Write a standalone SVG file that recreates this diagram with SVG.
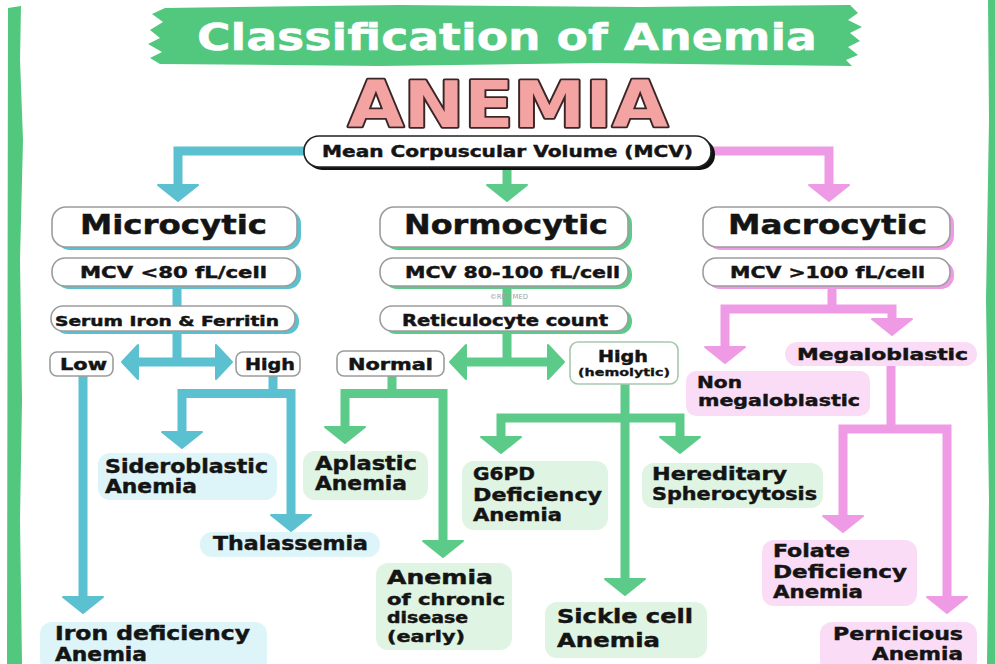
<svg xmlns="http://www.w3.org/2000/svg" xmlns:xlink="http://www.w3.org/1999/xlink" width="995" height="664" viewBox="0 0 995 664">
<style>
.t{font-family:"DejaVu Sans","Liberation Sans",sans-serif;font-weight:bold;fill:#141414;stroke:#141414;stroke-width:0.45}
.box{fill:#fff;stroke:#9c9c9c;stroke-width:1.6}
.tl{fill:#5bc0d0}.gr{fill:#5ccb89}.pk{fill:#ee9ae5}
.ct{fill:none;stroke-width:9;stroke-linejoin:miter}
.lt{fill:#ddf4f9}.lg{fill:#dff4e3}.lp{fill:#fadcf6}
</style>
<defs>
<path id="ah" d="M-20,-16 L20,-16 L0,0 Z" stroke-width="2" stroke-linejoin="round"/>
<path id="ahs" d="M-17,-16 L17,-16 L0,0 Z" stroke-width="2" stroke-linejoin="round"/>
</defs>
<rect width="995" height="664" fill="#fff"/>
<path d="M8,8 L21,6 L20,60 L23,140 L20,260 L22,400 L20,520 L22,664 L7,664 Z" fill="#52c77e"/>
<path d="M988,0 L995,0 L995,664 L987,664 L989,500 L986,300 L989,120 Z" fill="#52c77e"/>
<g id="title">
<path d="M165,8 L400,5 L640,7 L850,5 L858,13 L848,20 L862,27 L850,33 L860,41 L848,47 L858,55 L846,60 L852,66 L600,63 L380,66 L160,64 L150,58 L162,52 L148,44 L160,38 L150,30 L163,22 L152,14 Z" fill="#52c77e"/>
<text x="197" y="50" class="t" style="fill:#fff;stroke:#fff" font-size="38" textLength="620" lengthAdjust="spacingAndGlyphs">Classification of Anemia</text>
</g>
<g id="anemia">
<text x="348" y="127" class="t" font-size="64" textLength="320" lengthAdjust="spacingAndGlyphs" style="fill:#f4a3a3;stroke:#3a2626;stroke-width:3.5;paint-order:stroke;stroke-linejoin:round">ANEMIA</text>
</g>
<g id="connectors">
<path class="ct" stroke="#5bc0d0" d="M304,151 H178 V186"/>
<use href="#ah" class="tl" stroke="#5bc0d0" transform="translate(178,201)"/>
<path class="ct" stroke="#5bc0d0" d="M177,286 V308 M177,332 V362 M136,362 H217"/>
<use href="#ahs" class="tl" stroke="#5bc0d0" transform="translate(122,362) rotate(90)"/>
<use href="#ahs" class="tl" stroke="#5bc0d0" transform="translate(232,362) rotate(-90)"/>
<path class="ct" stroke="#5bc0d0" d="M273,376 V393 M182,433 V393.5 H291 V516 M83,376 V598"/>
<use href="#ah" class="tl" stroke="#5bc0d0" transform="translate(182,448)"/>
<use href="#ah" class="tl" stroke="#5bc0d0" transform="translate(291,531)"/>
<use href="#ah" class="tl" stroke="#5bc0d0" transform="translate(83,613)"/>
<path class="ct" stroke="#5ccb89" d="M507,168 V186 M507,286 V308 M507,332 V362 M465,362 H549"/>
<use href="#ah" class="gr" stroke="#5ccb89" transform="translate(507,201)"/>
<use href="#ahs" class="gr" stroke="#5ccb89" transform="translate(450,362) rotate(90)"/>
<use href="#ahs" class="gr" stroke="#5ccb89" transform="translate(564,362) rotate(-90)"/>
<path class="ct" stroke="#5ccb89" d="M392,376 V393 M345,428 V393.5 H443 V542 M625,384 V580 M501,438 V418 H680 V438"/>
<use href="#ah" class="gr" stroke="#5ccb89" transform="translate(345,443)"/>
<use href="#ah" class="gr" stroke="#5ccb89" transform="translate(443,557)"/>
<use href="#ah" class="gr" stroke="#5ccb89" transform="translate(625,595)"/>
<use href="#ah" class="gr" stroke="#5ccb89" transform="translate(501,453)"/>
<use href="#ah" class="gr" stroke="#5ccb89" transform="translate(680,453)"/>
<path class="ct" stroke="#ee9ae5" d="M712,151 H829 V186 M832,286 V309 M725,348 V309 H892 V320 M891,366 V429 M843,517 V429 H947 V598"/>
<use href="#ah" class="pk" stroke="#ee9ae5" transform="translate(829,201)"/>
<use href="#ah" class="pk" stroke="#ee9ae5" transform="translate(725,363)"/>
<use href="#ah" class="pk" stroke="#ee9ae5" transform="translate(892,335)"/>
<use href="#ah" class="pk" stroke="#ee9ae5" transform="translate(843,532)"/>
<use href="#ah" class="pk" stroke="#ee9ae5" transform="translate(947,613)"/>
</g>
<g id="mcv">
<rect x="307" y="139" width="408" height="31" rx="15" fill="#111"/>
<rect x="304" y="136" width="407" height="31" rx="15" fill="#fff" stroke="#222" stroke-width="1.6"/>
<text x="322" y="157" class="t" font-size="16" textLength="371" lengthAdjust="spacingAndGlyphs">Mean Corpuscular Volume (MCV)</text>
</g>
<g id="microcytic">
<rect x="56" y="210" width="245" height="40" rx="14" class="tl"/>
<rect x="52" y="207" width="245" height="40" rx="14" class="box"/>
<text x="80" y="234" class="t" font-size="26" textLength="187" lengthAdjust="spacingAndGlyphs">Microcytic</text>
</g>
<g id="normocytic">
<rect x="384" y="210" width="248" height="40" rx="14" class="gr"/>
<rect x="380" y="207" width="248" height="40" rx="14" class="box"/>
<text x="404" y="234" class="t" font-size="26" textLength="204" lengthAdjust="spacingAndGlyphs">Normocytic</text>
</g>
<g id="macrocytic">
<rect x="707" y="210" width="247" height="40" rx="14" class="pk"/>
<rect x="703" y="207" width="247" height="40" rx="14" class="box"/>
<text x="728" y="234" class="t" font-size="26" textLength="199" lengthAdjust="spacingAndGlyphs">Macrocytic</text>
</g>
<g id="mcv-micro">
<rect x="56" y="261" width="245" height="28" rx="13" class="tl"/>
<rect x="52" y="258" width="245" height="28" rx="13" class="box"/>
<text x="80" y="278" class="t" font-size="16" textLength="187" lengthAdjust="spacingAndGlyphs">MCV &lt;80 fL/cell</text>
</g>
<g id="mcv-normo">
<rect x="384" y="261" width="248" height="28" rx="13" class="gr"/>
<rect x="380" y="258" width="248" height="28" rx="13" class="box"/>
<text x="405" y="278" class="t" font-size="16" textLength="215" lengthAdjust="spacingAndGlyphs">MCV 80-100 fL/cell</text>
</g>
<g id="mcv-macro">
<rect x="707" y="261" width="247" height="28" rx="13" class="pk"/>
<rect x="703" y="258" width="247" height="28" rx="13" class="box"/>
<text x="730" y="278" class="t" font-size="16" textLength="195" lengthAdjust="spacingAndGlyphs">MCV &gt;100 fL/cell</text>
</g>
<g id="watermark">
<text x="490" y="299" font-family="DejaVu Sans, sans-serif" font-size="7" fill="#a0a0a0" textLength="38" lengthAdjust="spacingAndGlyphs">©REV MED</text>
</g>
<g id="serum">
<rect x="55" y="309" width="244" height="25" rx="12" class="tl"/>
<rect x="51" y="306" width="244" height="25" rx="12" class="box"/>
<text x="55" y="326" class="t" font-size="14" textLength="224" lengthAdjust="spacingAndGlyphs">Serum Iron &amp; Ferritin</text>
</g>
<g id="retic">
<rect x="384" y="309" width="248" height="25" rx="12" class="gr"/>
<rect x="380" y="306" width="248" height="25" rx="12" class="box"/>
<text x="402" y="326" class="t" font-size="15" textLength="206" lengthAdjust="spacingAndGlyphs">Reticulocyte count</text>
</g>
<g id="low">
<rect x="50" y="352" width="63" height="24" rx="7" class="box"/>
<text x="60" y="370" class="t" font-size="15" textLength="47" lengthAdjust="spacingAndGlyphs">Low</text>
</g>
<g id="high">
<rect x="236" y="352" width="64" height="24" rx="7" class="box"/>
<text x="245" y="370" class="t" font-size="15" textLength="50" lengthAdjust="spacingAndGlyphs">High</text>
</g>
<g id="normal">
<rect x="337" y="351" width="107" height="25" rx="7" class="box"/>
<text x="348" y="370" class="t" font-size="15" textLength="85" lengthAdjust="spacingAndGlyphs">Normal</text>
</g>
<g id="high-hemolytic">
<rect x="570" y="342" width="108" height="42" rx="8" class="box" style="stroke:#a8c8b0"/>
<text x="598" y="362" class="t" font-size="15" textLength="50" lengthAdjust="spacingAndGlyphs">High</text>
<text x="578" y="376" class="t" font-size="10" textLength="92" lengthAdjust="spacingAndGlyphs" style="stroke-width:0.3">(hemolytic)</text>
</g>
<g id="megaloblastic">
<rect x="785" y="342" width="192" height="24" rx="12" class="lp"/>
<text x="797" y="360" class="t" font-size="16" textLength="171" lengthAdjust="spacingAndGlyphs">Megaloblastic</text>
</g>
<g id="non-megaloblastic">
<rect x="686" y="371" width="184" height="45" rx="10" class="lp"/>
<text x="697" y="388" class="t" font-size="16" textLength="45" lengthAdjust="spacingAndGlyphs">Non</text>
<text x="698" y="406" class="t" font-size="16" textLength="162" lengthAdjust="spacingAndGlyphs">megaloblastic</text>
</g>
<g id="sideroblastic">
<rect x="98" y="453" width="179" height="47" rx="12" class="lt"/>
<text x="105" y="473" class="t" font-size="19" textLength="163" lengthAdjust="spacingAndGlyphs">Sideroblastic</text>
<text x="105" y="493" class="t" font-size="19" textLength="92" lengthAdjust="spacingAndGlyphs">Anemia</text>
</g>
<g id="thalassemia">
<rect x="200" y="532" width="180" height="25" rx="12" class="lt"/>
<text x="213" y="550" class="t" font-size="19" textLength="155" lengthAdjust="spacingAndGlyphs">Thalassemia</text>
</g>
<g id="iron-deficiency">
<rect x="40" y="622" width="227" height="50" rx="12" class="lt"/>
<text x="55" y="640" class="t" font-size="19" textLength="195" lengthAdjust="spacingAndGlyphs">Iron deficiency</text>
<text x="55" y="661" class="t" font-size="19" textLength="92" lengthAdjust="spacingAndGlyphs">Anemia</text>
</g>
<g id="aplastic">
<rect x="303" y="451" width="125" height="49" rx="12" class="lg"/>
<text x="315" y="470" class="t" font-size="19" textLength="102" lengthAdjust="spacingAndGlyphs">Aplastic</text>
<text x="315" y="490" class="t" font-size="19" textLength="92" lengthAdjust="spacingAndGlyphs">Anemia</text>
</g>
<g id="chronic">
<rect x="376" y="563" width="136" height="87" rx="12" class="lg"/>
<text x="387" y="584" class="t" font-size="20" textLength="106" lengthAdjust="spacingAndGlyphs">Anemia</text>
<text x="387" y="605" class="t" font-size="16" textLength="118" lengthAdjust="spacingAndGlyphs">of chronic</text>
<text x="387" y="623" class="t" font-size="16" textLength="81" lengthAdjust="spacingAndGlyphs">disease</text>
<text x="387" y="642" class="t" font-size="16" textLength="78" lengthAdjust="spacingAndGlyphs">(early)</text>
</g>
<g id="g6pd">
<rect x="462" y="461" width="146" height="69" rx="12" class="lg"/>
<text x="473" y="480" class="t" font-size="18" textLength="62" lengthAdjust="spacingAndGlyphs">G6PD</text>
<text x="473" y="501" class="t" font-size="18" textLength="129" lengthAdjust="spacingAndGlyphs">Deficiency</text>
<text x="473" y="521" class="t" font-size="18" textLength="89" lengthAdjust="spacingAndGlyphs">Anemia</text>
</g>
<g id="hereditary">
<rect x="642" y="463" width="181" height="45" rx="12" class="lg"/>
<text x="652" y="480" class="t" font-size="18" textLength="135" lengthAdjust="spacingAndGlyphs">Hereditary</text>
<text x="652" y="500" class="t" font-size="18" textLength="165" lengthAdjust="spacingAndGlyphs">Spherocytosis</text>
</g>
<g id="sickle">
<rect x="545" y="602" width="162" height="56" rx="12" class="lg"/>
<text x="557" y="623" class="t" font-size="20" textLength="136" lengthAdjust="spacingAndGlyphs">Sickle cell</text>
<text x="557" y="647" class="t" font-size="20" textLength="103" lengthAdjust="spacingAndGlyphs">Anemia</text>
</g>
<g id="folate">
<rect x="762" y="540" width="155" height="66" rx="12" class="lp"/>
<text x="773" y="557" class="t" font-size="18" textLength="77" lengthAdjust="spacingAndGlyphs">Folate</text>
<text x="773" y="578" class="t" font-size="18" textLength="134" lengthAdjust="spacingAndGlyphs">Deficiency</text>
<text x="773" y="598" class="t" font-size="18" textLength="90" lengthAdjust="spacingAndGlyphs">Anemia</text>
</g>
<g id="pernicious">
<rect x="820" y="622" width="157" height="50" rx="12" class="lp"/>
<text x="833" y="640" class="t" font-size="18" textLength="130" lengthAdjust="spacingAndGlyphs">Pernicious</text>
<text x="872" y="660" class="t" font-size="18" textLength="91" lengthAdjust="spacingAndGlyphs">Anemia</text>
</g>
</svg>
